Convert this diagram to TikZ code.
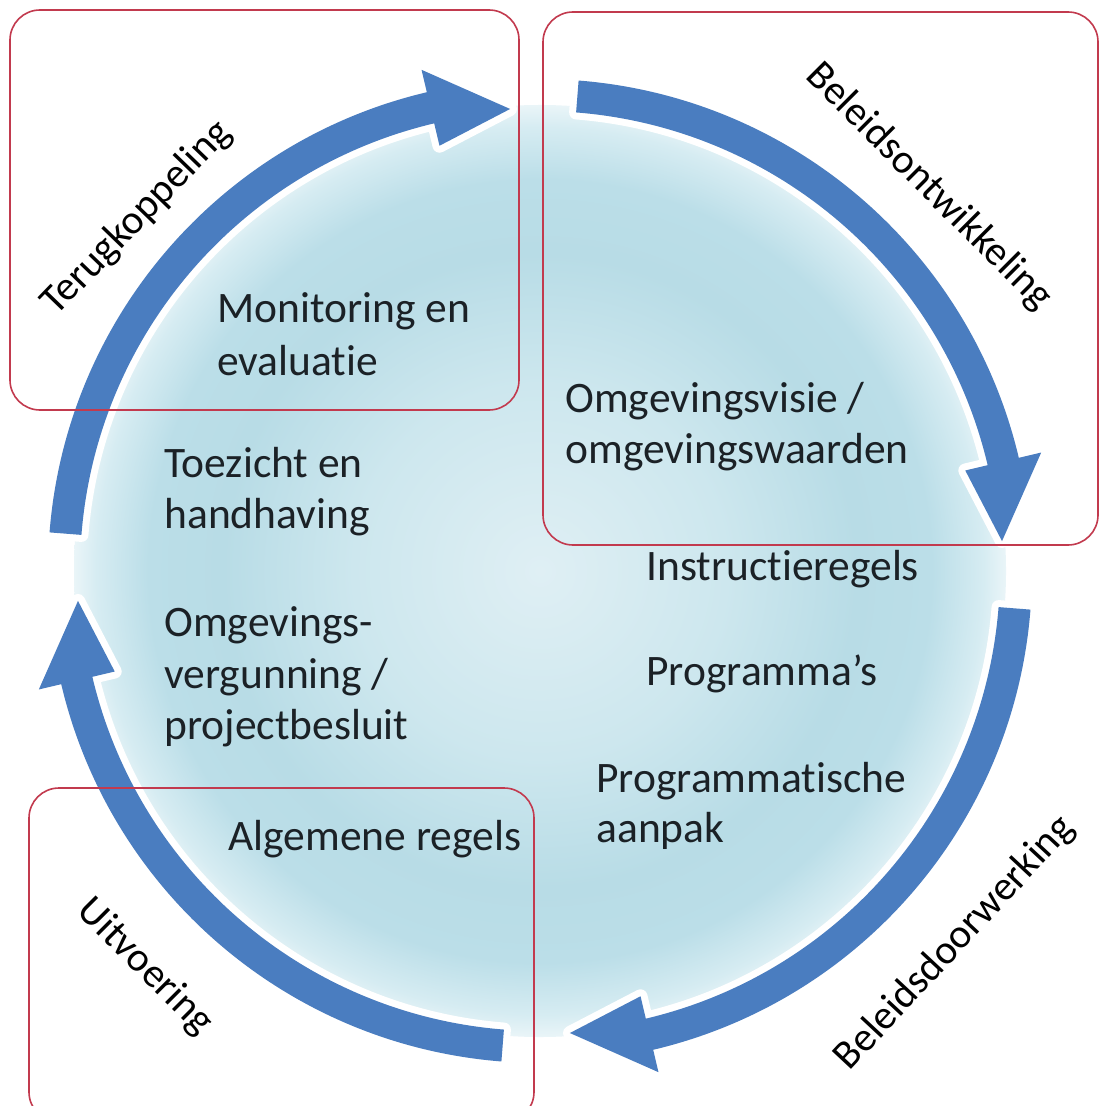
\documentclass[tikz,border=0pt]{standalone}
\usepackage{fontspec}
\setmainfont{Carlito}[Ligatures={NoCommon}]
\usetikzlibrary{calc}

\definecolor{arrowblue}{HTML}{4A7DC0}
\definecolor{boxred}{HTML}{C23A4E}
\definecolor{inktext}{HTML}{1B2126}
\definecolor{diskA}{HTML}{DFEFF4}
\definecolor{diskB}{HTML}{CDE7EE}
\definecolor{diskC}{HTML}{B8DCE6}
\definecolor{diskD}{HTML}{BBDEE8}
\definecolor{diskE}{HTML}{D6ECF2}
\definecolor{diskF}{HTML}{EAF5F8}

% light centre, deeper blue ring, soft light rim
\pgfdeclareradialshading{diskfill}{\pgfpoint{0bp}{0bp}}{%
  color(0bp)=(diskA); color(10bp)=(diskB); color(17bp)=(diskC);
  color(21bp)=(diskD); color(23.8bp)=(diskE); color(25bp)=(diskF);
  color(50bp)=(diskF)}

% one curved arrow of the cycle: name, tail angle, head-base angle, tip angle
\newcommand\ringarrow[4]{%
  \path[cyclearrow] ($(c)+(#2:492)$)
    arc[start angle=#2, end angle=#3, radius=492]
    -- ($(c)+(#3:515)$) -- ($(c)+(#4:463)$) -- ($(c)+(#3:437)$)
    -- ($(c)+(#3:460)$)
    arc[start angle=#3, end angle=#2, radius=460] -- cycle;}

\tikzset{
  cyclearrow/.style={fill=arrowblue,
    preaction={draw=white, line width=7pt, line join=round}},
  framebox/.style={draw=boxred, line width=0.8pt, rounded corners=15pt},
  bodytext/.style={anchor=base west, inner sep=0pt, text=inktext,
    font=\fontsize{21.75}{26}\selectfont},
  phase/.style={anchor=center, inner sep=0pt, text=black,
    font=\fontsize{20.5}{24}\selectfont},
}

\begin{document}
\begin{tikzpicture}[x=0.5pt, y=0.5pt]
  \useasboundingbox (0,0) rectangle (1100,-1106);
  \fill[white] (0,0) rectangle (1100,-1106);

  \coordinate (c) at (540,-571);

  % shaded disc
  \shade[shading=diskfill] (c) circle[radius=466];

  % the four arrows, running clockwise
  \ringarrow{ontw}{85.5}{13.3}{3.7}
  \ringarrow{door}{-4.5}{-76.7}{-86.3}
  \ringarrow{uitv}{-94.5}{-166.7}{-176.3}
  \ringarrow{terug}{175.5}{103.3}{93.7}

  % phase labels along the ring
  \node[phase, rotate=46]  (lterug) at (137,-218) {Terugkoppeling};
  \node[phase, rotate=-45] (lontw)  at (929,-187) {Beleidsontwikkeling};
  \node[phase, rotate=47]  (ldoor)  at (955,-943) {Beleidsdoorwerking};
  \node[phase, rotate=-45] (luitv)  at (145,-967) {Uitvoering};

  % instruments inside the disc
  \node[bodytext] (mon1) at (217,-323) {Monitoring en};
  \node[bodytext] (mon2) at (217,-376) {evaluatie};
  \node[bodytext] (toe1) at (164,-477) {Toezicht en};
  \node[bodytext] (toe2) at (164,-528) {handhaving};
  \node[bodytext] (omg1) at (164,-636) {Omgevings-};
  \node[bodytext] (omg2) at (164,-688) {vergunning /};
  \node[bodytext] (omg3) at (164,-739) {projectbesluit};
  \node[bodytext] (alg)  at (228,-850) {Algemene regels};
  \node[bodytext] (vis1) at (565,-412) {Omgevingsvisie /};
  \node[bodytext] (vis2) at (565,-463) {omgevingswaarden};
  \node[bodytext] (instr) at (646,-580) {Instructieregels};
  \node[bodytext] (prog) at (646,-685) {Programma’s};
  \node[bodytext] (pa1)  at (596,-792) {Programmatische};
  \node[bodytext] (pa2)  at (596,-842) {aanpak};

  % highlighted phases
  \draw[framebox] (10,-10) rectangle (519,-410);
  \draw[framebox] (543,-12) rectangle (1098,-545);
  \draw[framebox] (29,-788) rectangle (534,-1122);
\end{tikzpicture}
\end{document}
